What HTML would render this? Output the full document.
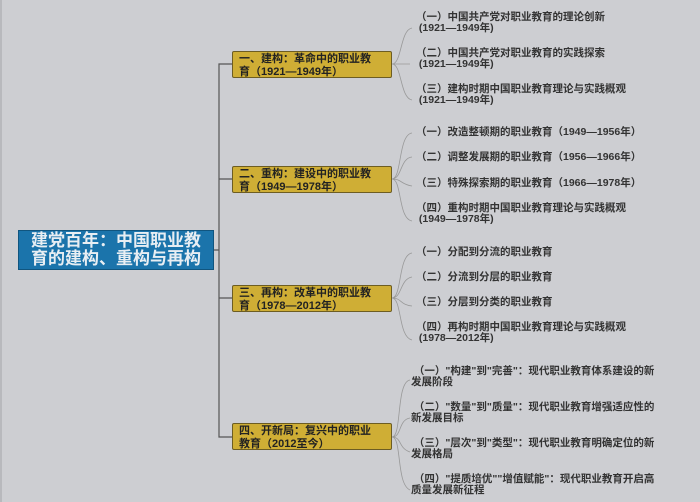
<!DOCTYPE html>
<html><head><meta charset="utf-8"><style>
body{margin:0;width:700px;height:502px;background:#cdced2;position:relative;overflow:hidden;font-family:"Liberation Sans","Noto Sans CJK SC",sans-serif;}
.root{position:absolute;left:18px;top:230px;width:196px;height:40px;background:#1b74ab;border:1px solid #10557f;box-sizing:border-box;color:#e8eef3;font-size:17px;font-weight:bold;line-height:18px;padding:1px 0 0 12px;white-space:nowrap;}
.b{position:absolute;left:232px;width:160px;height:27px;background:#cfae35;border:1px solid #6d5d22;box-sizing:border-box;border-radius:2px;font-size:11px;font-weight:bold;color:#222;line-height:12.5px;padding:1px 0 0 6px;white-space:nowrap;}
.l{position:absolute;font-size:10.5px;color:#333;line-height:11px;font-weight:bold;white-space:nowrap;}
svg{position:absolute;left:0;top:0}
</style></head><body>
<div style="position:absolute;left:0;top:0;width:2px;height:502px;background:#b8b9bd"></div>
<svg width="700" height="502">
<g fill="none" stroke="#555" stroke-width="1.2">
<path d="M232 64 H219 V437 H232 M219 179 H232 M219 298 H232 M214 250 H219"/>
</g>
<g fill="none" stroke="#999" stroke-width="0.8">
<path d="M392 64 C402 64,400 30,412 28 M392 64 H410 M392 64 C402 64,400 98,412 100"/>
<path d="M392 179 C402 179,398 135,412 133 M392 179 C402 179,400 158,412 157 M392 179 C402 179,400 184,412 186 M392 179 C402 179,398 219,412 221"/>
<path d="M392 298 C402 298,398 255,412 253 M392 298 C402 298,400 279,412 277 M392 298 C402 298,400 305,412 306 M392 298 C402 298,398 337,412 340"/>
<path d="M392 437 C402 437,396 382,410 380 M392 437 C402 437,398 420,410 418 M392 437 C402 437,398 448,410 452 M392 437 C402 437,396 484,410 490"/>
</g>
</svg>
<div class="root">建党百年：中国职业教<br>育的建构、重构与再构</div>
<div class="b" style="top:51px">一、建构：革命中的职业教<br>育（1921—1949年）</div>
<div class="b" style="top:166px">二、重构：建设中的职业教<br>育（1949—1978年）</div>
<div class="b" style="top:285px">三、再构：改革中的职业教<br>育（1978—2012年）</div>
<div class="b" style="top:423px">四、开新局：复兴中的职业<br>教育（2012至今）</div>
<div class="l" style="left:416px;top:12px">（一）中国共产党对职业教育的理论创新<br>&nbsp;(1921—1949年)</div>
<div class="l" style="left:416px;top:48px">（二）中国共产党对职业教育的实践探索<br>&nbsp;(1921—1949年)</div>
<div class="l" style="left:416px;top:84px">（三）建构时期中国职业教育理论与实践概观<br>&nbsp;(1921—1949年)</div>
<div class="l" style="left:416px;top:127px">（一）改造整顿期的职业教育（1949—1956年）</div>
<div class="l" style="left:416px;top:152px">（二）调整发展期的职业教育（1956—1966年）</div>
<div class="l" style="left:416px;top:178px">（三）特殊探索期的职业教育（1966—1978年）</div>
<div class="l" style="left:416px;top:203px">（四）重构时期中国职业教育理论与实践概观<br>&nbsp;(1949—1978年)</div>
<div class="l" style="left:416px;top:247px">（一）分配到分流的职业教育</div>
<div class="l" style="left:416px;top:272px">（二）分流到分层的职业教育</div>
<div class="l" style="left:416px;top:297px">（三）分层到分类的职业教育</div>
<div class="l" style="left:416px;top:322px">（四）再构时期中国职业教育理论与实践概观<br>&nbsp;(1978—2012年)</div>
<div class="l" style="left:411px;top:366px">&nbsp;（一）"构建"到"完善"：现代职业教育体系建设的新<br>发展阶段</div>
<div class="l" style="left:411px;top:402px">&nbsp;（二）"数量"到"质量"：现代职业教育增强适应性的<br>新发展目标</div>
<div class="l" style="left:411px;top:438px">&nbsp;（三）"层次"到"类型"：现代职业教育明确定位的新<br>发展格局</div>
<div class="l" style="left:411px;top:474px">&nbsp;（四）"提质培优""增值赋能"：现代职业教育开启高<br>质量发展新征程</div>
</body></html>
